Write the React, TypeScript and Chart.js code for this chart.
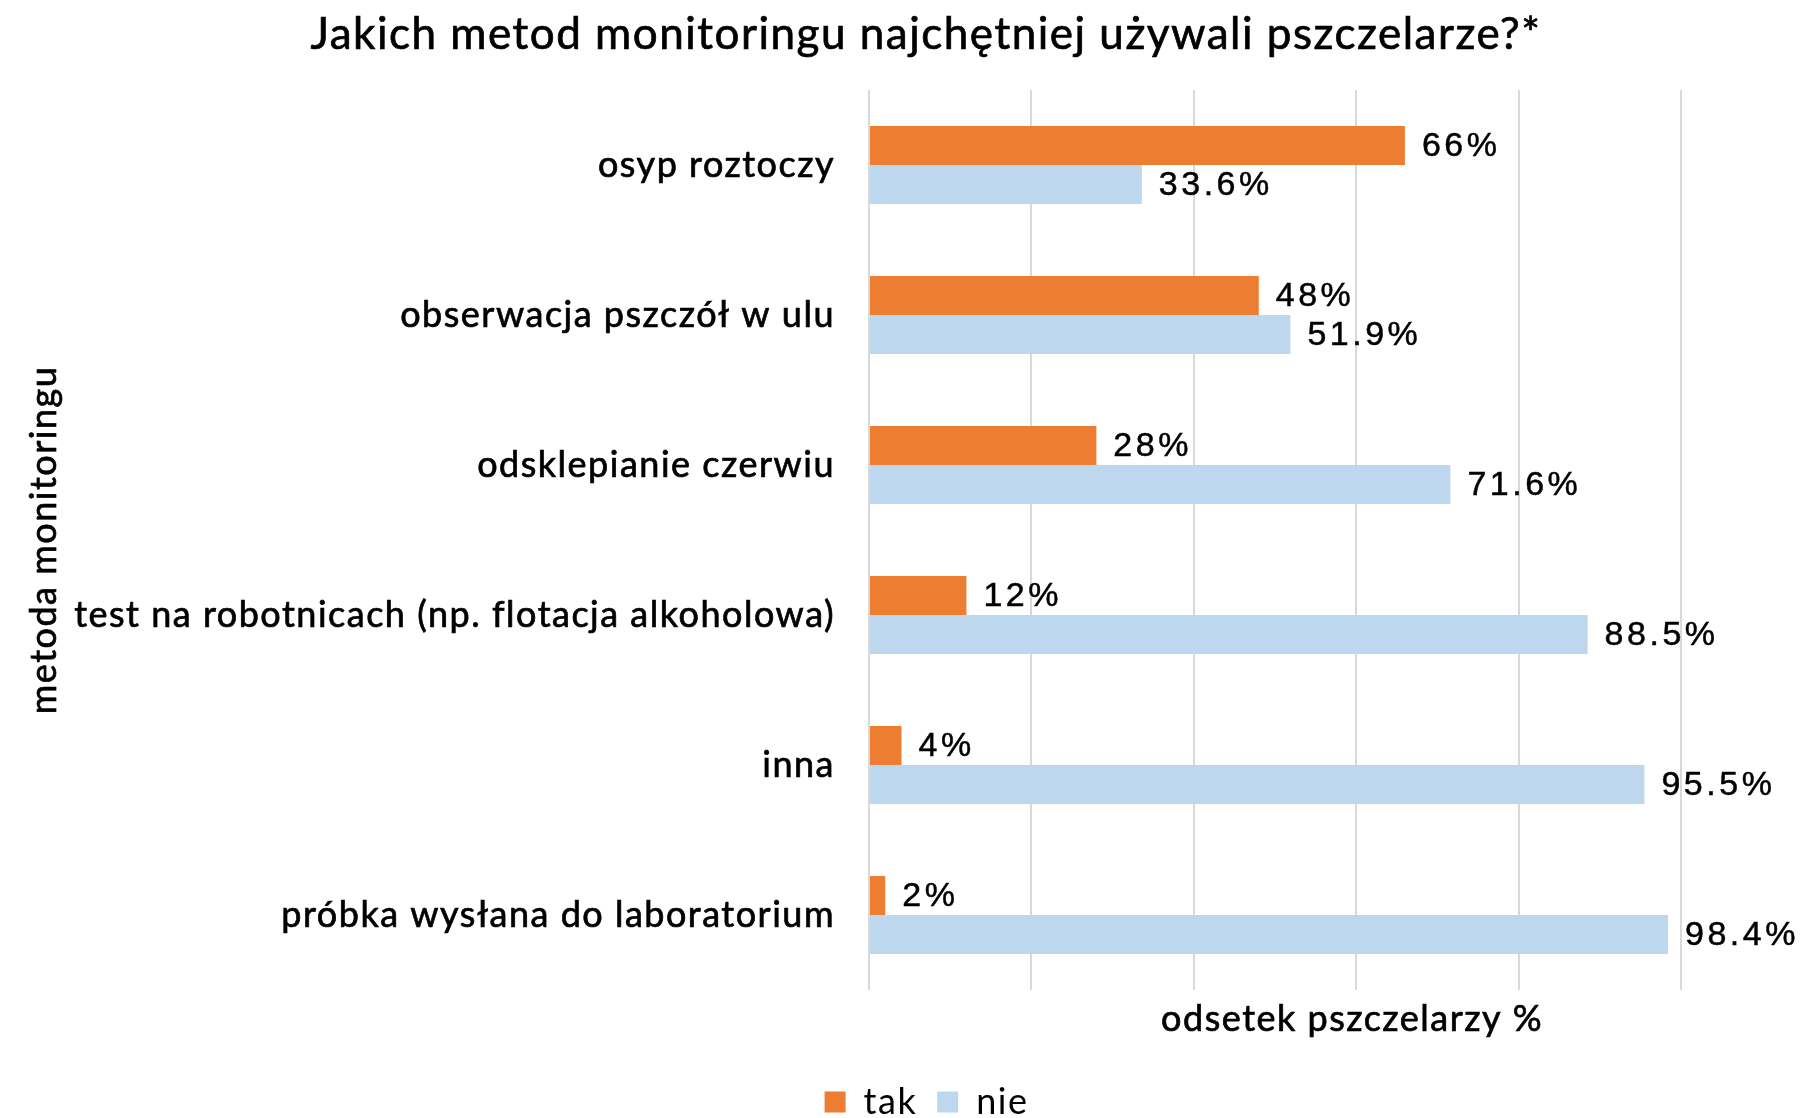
import React, { useEffect, useRef } from "react";
import { Chart, registerables } from "chart.js";

Chart.register(...registerables);

const categories = [
  "osyp roztoczy",
  "obserwacja pszczół w ulu",
  "odsklepianie czerwiu",
  "test na robotnicach (np. flotacja alkoholowa)",
  "inna",
  "próbka wysłana do laboratorium",
];
const takValues = [66, 48, 28, 12, 4, 2];
const nieValues = [33.6, 51.9, 71.6, 88.5, 95.5, 98.4];
const takLabels = ["66%", "48%", "28%", "12%", "4%", "2%"];
const nieLabels = ["33.6%", "51.9%", "71.6%", "88.5%", "95.5%", "98.4%"];
const seriesNames = ["tak", "nie"];
const titleText = "Jakich metod monitoringu najchętniej używali pszczelarze?*";
const xTitle = "odsetek pszczelarzy %";
const yTitle = "metoda monitoringu";

const ORANGE = "#ED7D31";
const BLUE = "#BDD7EE";
const FONT = "Lato";
const SPACING = "1.5px";
const STROKE = 0.7;

const spacingPlugin = {
  id: "spacing",
  beforeUpdate(chart: any) { chart.ctx.letterSpacing = SPACING; },
  beforeLayout(chart: any) { chart.ctx.letterSpacing = SPACING; },
  beforeDraw(chart: any) { chart.ctx.letterSpacing = SPACING; },
};

function boldText(ctx: CanvasRenderingContext2D, text: string, x: number, y: number) {
  ctx.fillText(text, x, y);
  ctx.strokeText(text, x, y);
}

const labelsPlugin = {
  id: "valueLabels",
  afterDatasetsDraw(chart: any) {
    const ctx = chart.ctx;
    const all = [takLabels, nieLabels];
    ctx.save();
    ctx.letterSpacing = "3.5px";
    ctx.font = "34px 'Liberation Sans'";
    ctx.fillStyle = "#000";
    ctx.strokeStyle = "#000";
    ctx.lineWidth = 0.5;
    ctx.textAlign = "left";
    ctx.textBaseline = "middle";
    chart.data.datasets.forEach((_: any, di: number) => {
      const meta = chart.getDatasetMeta(di);
      meta.data.forEach((bar: any, i: number) => {
        boldText(ctx, all[di][i], bar.x + 17, bar.y + 1);
      });
    });
    ctx.restore();

    const area = chart.chartArea;
    ctx.save();
    ctx.letterSpacing = SPACING;
    ctx.fillStyle = "#000";
    ctx.strokeStyle = "#000";
    ctx.lineWidth = STROKE;
    ctx.textAlign = "center";
    ctx.textBaseline = "middle";
    ctx.font = `44px ${FONT}`;
    boldText(ctx, titleText, 926, 35);
    ctx.font = `36px ${FONT}`;
    boldText(ctx, xTitle, area.left + (area.right - area.left) * 0.595, 1019);
    ctx.translate(44, (area.top + area.bottom) / 2);
    ctx.rotate(-Math.PI / 2);
    boldText(ctx, yTitle, 0, 0);
    ctx.restore();
  },
};

export default function App() {
  const ref = useRef<HTMLCanvasElement>(null);
  useEffect(() => {
    if (!ref.current) return;
    const chart = new Chart(ref.current, {
      type: "bar",
      data: {
        labels: categories,
        datasets: [
          { label: seriesNames[0], data: takValues, backgroundColor: ORANGE, barPercentage: 1, categoryPercentage: 0.52 },
          { label: seriesNames[1], data: nieValues, backgroundColor: BLUE, barPercentage: 1, categoryPercentage: 0.52 },
        ],
      },
      options: {
        indexAxis: "y",
        animation: false,
        responsive: false,
        layout: { padding: { left: 50, right: 0, top: 90, bottom: -12 } },
        plugins: {
          title: { display: false },
          legend: {
            display: true,
            position: "bottom",
            labels: {
              color: "#000",
              font: { family: FONT, size: 36 },
              boxWidth: 21,
              boxHeight: 21,
              padding: 20,
            },
          },
          tooltip: { enabled: false },
        },
        scales: {
          x: {
            min: 0,
            max: 100,
            ticks: { display: false, stepSize: 20 },
            grid: { color: "#d9d9d9", lineWidth: 2, drawTicks: false },
            border: { display: false },
            afterFit: (s: any) => { s.height = 74; },
          },
          y: {
            ticks: {
              color: "#000",
              font: { family: FONT, size: 36 },
              padding: 34,
              textStrokeColor: "#000",
              textStrokeWidth: STROKE,
            },
            grid: { display: false, drawTicks: false },
            border: { display: false },
            afterFit: (s: any) => { s.width = 819; },
          },
          y2: {
            position: "right",
            display: true,
            ticks: { display: false },
            grid: { display: false, drawTicks: false },
            border: { display: false },
            afterFit: (s: any) => { s.width = 122; },
          },
        },
      },
      plugins: [spacingPlugin, labelsPlugin],
    } as any);
    return () => chart.destroy();
  }, []);
  return (
    <div style={{ position: "absolute", left: 0, top: 0, width: 1803, height: 1118, background: "#fff" }}>
      <canvas ref={ref} width={1803} height={1118} style={{ width: 1803, height: 1118 }} />
    </div>
  );
}
